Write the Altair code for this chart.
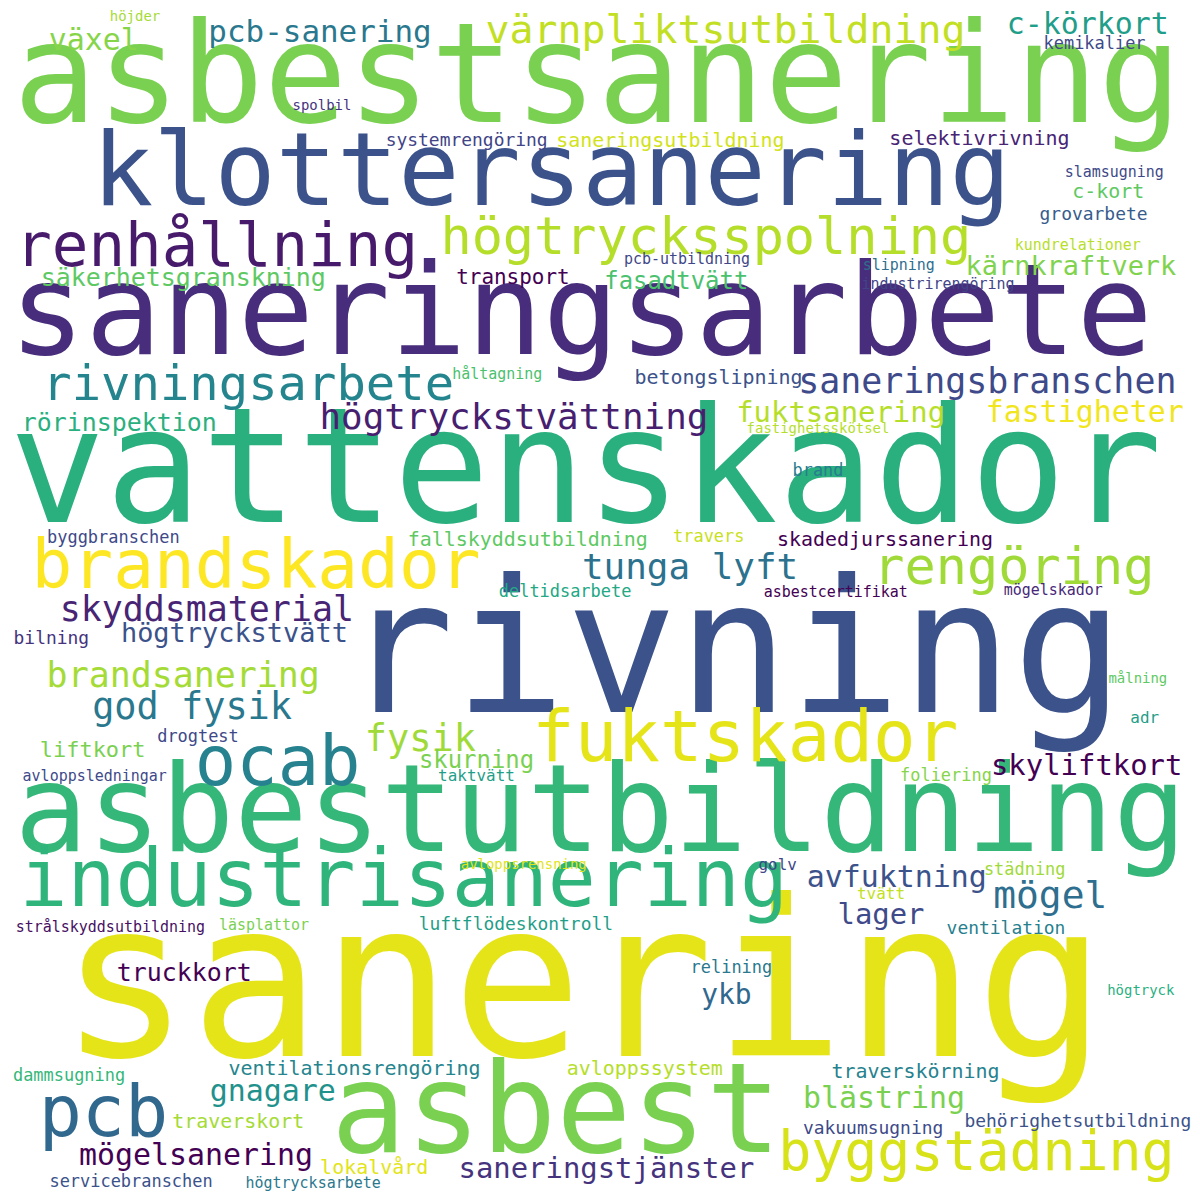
import altair as alt
import pandas as pd

words = ["asbestsanering","klottersanering","saneringsarbete","vattenskador","rivning","sanering","asbestutbildning","asbest",
"renhållning","högtrycksspolning","brandskador","rengöring","fuktskador","industrisanering","ocab","pcb","byggstädning",
"rivningsarbete","värnpliktsutbildning","pcb-sanering","c-körkort","växel","kemikalier","höjder","spolbil","systemrengöring",
"saneringsutbildning","selektivrivning","slamsugning","c-kort","grovarbete","kundrelationer","kärnkraftverk","pcb-utbildning",
"slipning","industrirengöring","transport","fasadtvätt","säkerhetsgranskning","saneringsbranschen","håltagning","betongslipning",
"högtryckstvättning","fuktsanering","fastigheter","rörinspektion","fastighetsskötsel","brand","byggbranschen","fallskyddsutbildning",
"travers","skadedjurssanering","tunga lyft","deltidsarbete","asbestcertifikat","mögelskador","skyddsmaterial","högtryckstvätt",
"bilning","brandsanering","målning","god fysik","adr","liftkort","fysik","drogtest","skurning","skyliftkort","avloppsledningar",
"taktvätt","foliering","avloppsrensning","golv","städning","tvätt","avfuktning","mögel","lager","ykb","strålskyddsutbildning",
"läsplattor","luftflödeskontroll","ventilation","truckkort","relining","högtryck","dammsugning","ventilationsrengöring",
"avloppssystem","traverskörning","gnagare","blästring","traverskort","vakuumsugning","behörighetsutbildning","mögelsanering",
"saneringstjänster","lokalvård","servicebranschen","högtrycksarbete"]
xs = [597,550,580,585,735,582,600,555,210,707,250,1020,747,400,272,95,982,242,727,315,1095,85,1102,127,317,464,671,985,1122,1116,
1101,1085,1078,688,903,943,511,677,176,993,495,720,512,844,1092,111,821,821,105,526,710,889,691,564,839,1060,200,228,42,176,1146,
185,1153,84,417,191,474,1094,86,474,951,522,780,1031,885,901,1057,885,728,102,258,514,1012,177,733,1149,60,350,645,920,267,888,
232,877,1085,189,606,370,123,308]
ys = [70,165,310,470,655,995,815,1120,240,230,565,565,740,885,765,1120,1160,380,20,22,14,30,33,6,96,132,132,130,163,183,207,237,
260,252,258,277,271,275,271,377,368,372,413,408,408,418,424,467,535,537,534,537,565,590,590,588,608,633,638,675,678,708,718,750,
740,737,762,767,777,777,777,867,867,872,897,880,900,918,1000,930,928,928,932,977,972,995,1082,1075,1075,1078,1098,1105,1128,1135,
1128,1163,1176,1175,1189,1190]
sizes = [139,102,127,160,186,218,122,125,61,52,68,52,71,80,69,72,55,49,40,31,30,30,17,14,14,18,20,20,15,20,18,15,27,15,15,15,21,
24,25,35,15,20,36,29,30,25,14,17,17,20,17,20,36,17,15,15,35,27,18,35,14,37,16,22,37,17,24,29,15,16,17,14,16,17,16,30,38,29,28,
15,15,18,18,25,17,14,17,20,20,20,30,30,20,18,18,30,29,20,17,15]
colors = ["#7ad151","#3b528b","#472d7b","#2ab07f","#3b528b","#e5e419","#35b779","#7ad151","#481a6c","#b5de2b","#fde725","#a0da39",
"#e5e419","#2fb47c","#26828e","#31688e","#d8e219","#25858e","#c2df23","#2a788e","#1f9e89","#86d549","#3e4a89","#a5db36","#46337e",
"#414487","#d2e21b","#482475","#3e4989","#5ec962","#365c8d","#b8de29","#7fd34e","#3f4788","#2e6e8e","#414487","#440154","#4ac16d",
"#5ec962","#3e4a89","#4ac16d","#3b528b","#481f70","#b5de2b","#f1e51d","#2ab07f","#b5de2b","#287d8e","#3e4989","#5ec962","#c8e020",
"#440154","#2c728e","#22a884","#440154","#482878","#482475","#3b528b","#46337e","#a5db36","#5ec962","#2a788e","#1f9e89","#7ad151",
"#a0da39","#3e4989","#7ad151","#440154","#3e4989","#1f9e89","#86d549","#e2e418","#3e4989","#a0da39","#c2df23","#3b528b","#2e6e8e",
"#3e4a89","#31688e","#471063","#7ad151","#1f9e89","#277f8e","#440154","#2a788e","#2ab07f","#35b779","#25858e","#b5de2b","#26828e",
"#21918c","#7ad151","#a5db36","#3e4a89","#3b528b","#440154","#46337e","#e2e418","#3b528b","#2a788e"]

df = pd.DataFrame({"word": words, "x": xs, "y": ys, "size": sizes, "color": colors})

chart = alt.Chart(df).mark_text(font="DejaVu Sans Mono", align="center", baseline="middle").encode(
    x=alt.X("x:Q", scale=alt.Scale(domain=[0, 1200]), axis=None),
    y=alt.Y("y:Q", scale=alt.Scale(domain=[1200, 0]), axis=None),
    size=alt.Size("size:Q", scale=None, legend=None),
    color=alt.Color("color:N", scale=None, legend=None),
    text="word:N",
).properties(width=1184, height=1184, padding=0, background="white").configure_view(stroke=None)

chart.save("out.html", embed_options={"renderer": "svg", "actions": False})
